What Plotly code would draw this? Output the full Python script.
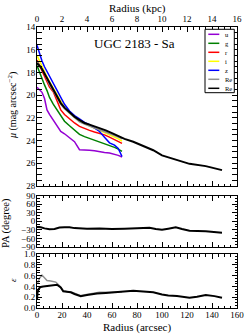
import plotly.graph_objects as go

# ---------------- data ----------------
r_band = [0, 2, 4, 6, 8, 10, 13, 16, 19, 22, 26, 30, 34, 38, 42, 46, 50, 54, 58, 62, 65, 68]
mu_u = [19.3, 19.5, 19.75, 20.3, 21.3, 21.7, 22.2, 22.7, 23.2, 23.4, 23.75, 24.1, 24.8, 24.8, 24.85, 24.9, 25.0, 25.05, 25.1, 25.2, 25.3, 25.45]
mu_g = [17.4, 18.0, 18.6, 19.1, 19.6, 20.2, 20.8, 21.3, 21.9, 22.3, 22.7, 23.1, 23.45, 23.65, 23.8, 23.95, 24.1, 24.3, 24.45, 24.6, 24.75, 24.95]
mu_r = [16.9, 17.4, 17.9, 18.35, 18.9, 19.3, 19.7, 20.5, 21.3, 21.7, 22.1, 22.45, 22.75, 22.95, 23.1, 23.25, 23.35, 23.5, 23.7, 23.9, 24.05, 24.25]
mu_i = [16.5, 17.0, 17.5, 17.9, 18.4, 18.8, 19.4, 20.0, 20.6, 21.1, 21.6, 21.95, 22.3, 22.5, 22.7, 22.85, 23.05, 23.25, 23.45, 23.65, 23.85, 24.05]
mu_z = [15.6, 16.4, 17.0, 17.5, 17.9, 18.4, 18.9, 19.6, 20.2, 20.8, 21.4, 21.8, 22.1, 22.4, 22.6, 22.9, 23.2, 23.7, 24.2, 24.4, 24.7, 25.4]
mu_re_gray = [17.0, 17.3, 17.7, 18.1, 18.6, 19.1, 19.6, 20.2, 20.8, 21.2, 21.6, 22.0, 22.35, 22.55, 22.75, 22.9, 23.05, 23.2, 23.4, 23.55, 23.7, 23.85]

r_full = [0, 2, 4, 6, 8, 10, 13, 16, 19, 22, 26, 30, 34, 38, 42, 46, 50, 55, 60, 65, 70, 77, 85, 93, 100, 110, 122, 135, 148]
mu_re = [17.2, 17.4, 17.7, 18.1, 18.6, 19.0, 19.5, 20.1, 20.7, 21.1, 21.5, 21.9, 22.2, 22.45, 22.6, 22.75, 22.9, 23.1, 23.35, 23.6, 23.85, 24.1, 24.45, 24.85, 25.3, 25.65, 26.05, 26.25, 26.6]

r_pa = [0, 3, 6, 10, 14, 18, 22, 26, 30, 35, 40, 50, 60, 70, 80, 85, 90, 95, 100, 105, 111, 116, 122, 135, 148]
pa = [-20, -21, -25, -28, -27, -22, -21, -21, -24, -26, -26, -25, -27, -26, -24, -22, -23, -27, -30, -26, -21, -27, -33, -35, -40]

r_ell = [0, 0.5, 1.5, 3, 5, 8, 12, 16, 19, 21, 24, 27, 30, 35, 40, 48, 55, 65, 72, 77, 85, 93, 100, 105, 112, 122, 128, 135, 142, 148]
ell = [0.16, 0.3, 0.36, 0.39, 0.40, 0.41, 0.42, 0.43, 0.38, 0.31, 0.3, 0.29, 0.26, 0.22, 0.24, 0.27, 0.28, 0.29, 0.31, 0.32, 0.30, 0.29, 0.25, 0.23, 0.22, 0.19, 0.21, 0.24, 0.22, 0.19]

r_ell_gray = [0.5, 2, 4, 6, 8, 11, 15, 18, 21, 24, 28, 35, 42, 50, 58, 68]
ell_gray = [0.46, 0.55, 0.61, 0.55, 0.51, 0.50, 0.48, 0.41, 0.32, 0.30, 0.29, 0.23, 0.26, 0.29, 0.29, 0.30]

bands = [
    ("u", mu_u, "#9400D3"),
    ("g", mu_g, "#008000"),
    ("r", mu_r, "#FF0000"),
    ("i", mu_i, "#FFFF00"),
    ("z", mu_z, "#0000FF"),
    ("Re", mu_re_gray, "#909090"),
]
legend_items = [("u", "#9400D3"), ("g", "#008000"), ("r", "#FF0000"), ("i", "#FFFF00"),
                ("z", "#0000FF"), ("Re", "#909090"), ("Re", "#000000")]

x_ticks_kpc = list(range(0, 17, 2))

# ---------------- figure ----------------
FONT = "Liberation Serif"
W, H = 245, 334
L, R, T, B = 37, 8, 27, 26
PW, PH = W - L - R, H - T - B


def px2paper(px, py):
    return (px - L) / PW, (H - B - py) / PH


fig = go.Figure()
for name, mu, col in bands:
    fig.add_trace(go.Scatter(x=r_band, y=mu, mode="lines", line=dict(color=col, width=1.5),
                             xaxis="x", yaxis="y", showlegend=False, name=name))
fig.add_trace(go.Scatter(x=r_full, y=mu_re, mode="lines", line=dict(color="black", width=2),
                         xaxis="x", yaxis="y", showlegend=False))
fig.add_trace(go.Scatter(x=[None], y=[None], mode="lines", xaxis="x4", yaxis="y", showlegend=False))
fig.add_trace(go.Scatter(x=r_pa, y=pa, mode="lines", line=dict(color="black", width=2),
                         xaxis="x2", yaxis="y2", showlegend=False))
fig.add_trace(go.Scatter(x=r_ell_gray, y=ell_gray, mode="lines", line=dict(color="#909090", width=1.5),
                         xaxis="x3", yaxis="y3", showlegend=False))
fig.add_trace(go.Scatter(x=r_ell, y=ell, mode="lines", line=dict(color="black", width=2),
                         xaxis="x3", yaxis="y3", showlegend=False))

tickfont = dict(family=FONT, size=9, color="black")
common = dict(showline=True, linecolor="black", linewidth=1, ticks="inside", ticklen=5,
              tickcolor="black", showgrid=False, zeroline=False, tickfont=tickfont,
              automargin=False)

BOT = H - B
d_main = [(BOT - 186) / PH, 1]
d_pa = [(BOT - 247) / PH, (BOT - 195.5) / PH]
d_e = [0, (BOT - 254) / PH]


def minor(dt):
    return dict(dtick=dt, ticklen=2.5, ticks="inside", tickcolor="black", showgrid=False)


fig.update_layout(
    width=W, height=H, margin=dict(l=L, r=R, t=T, b=B, autoexpand=False),
    paper_bgcolor="white", plot_bgcolor="white",
    font=dict(family=FONT, color="black"),
    xaxis=dict(domain=[0, 1], anchor="y", range=[0, 160], dtick=20, showticklabels=False,
               mirror=False, minor=minor(5), **common),
    xaxis4=dict(overlaying="x", anchor="y", side="top", range=[0, 16], tickvals=x_ticks_kpc,
                mirror=False, minor=minor(0.5), **common),
    yaxis=dict(domain=d_main, anchor="x", range=[28, 14], dtick=2, mirror="allticks",
               minor=minor(0.5), ticklabelstandoff=-1, **common),
    xaxis2=dict(domain=[0, 1], anchor="y2", range=[0, 160], dtick=20, showticklabels=False,
                mirror="allticks", minor=minor(5), **common),
    yaxis2=dict(domain=d_pa, anchor="x2", range=[-90, 90], dtick=30, mirror="allticks",
                minor=minor(10), ticklabelstandoff=-1, **common),
    xaxis3=dict(domain=[0, 1], anchor="y3", range=[0, 160], dtick=20, ticklabelstandoff=-2,
                mirror="allticks", minor=minor(5), **common),
    yaxis3=dict(domain=d_e, anchor="x3", range=[0, 1], dtick=0.2, tickformat=".1f", mirror="allticks",
                minor=minor(0.05), ticklabelstandoff=-1, **common),
)

ann = []
shapes = []


def add_text(text, px, py, size, angle=0, xanchor="center"):
    x, y = px2paper(px, py)
    ann.append(dict(text=text, x=x, y=y, xref="paper", yref="paper", showarrow=False,
                    textangle=angle, xanchor=xanchor, yanchor="middle",
                    font=dict(family=FONT, size=size, color="black")))


add_text("Radius (kpc)", 137, 8, 11)
add_text("Radius (arcsec)", 137, 327, 11)
add_text("<i>μ</i> (mag arcsec<sup>−2</sup>)", 12, 106, 10, angle=-90)
add_text("PA (degree)", 6, 223, 10.5, angle=-90)
add_text("<i>ε</i>", 13, 280, 9, angle=-90)
add_text("UGC 2183 - Sa", 134, 43, 13)

# legend box
x0, y0 = px2paper(205, 29.3)
x1, y1 = px2paper(234.3, 92.7)
shapes.append(dict(type="rect", xref="paper", yref="paper", x0=x0, y0=y1, x1=x1, y1=y0,
                   line=dict(color="black", width=1), fillcolor="white", layer="above"))
for k, (lab, col) in enumerate(legend_items):
    py = 34.3 + 9 * k
    lx0, ly = px2paper(208.3, py)
    lx1, _ = px2paper(219.3, py)
    shapes.append(dict(type="line", xref="paper", yref="paper", x0=lx0, x1=lx1, y0=ly, y1=ly,
                       line=dict(color=col, width=1.5), layer="above"))
    add_text(lab, 223, py, 6.5, xanchor="left")

fig.update_layout(annotations=ann, shapes=shapes)
fig.write_html("out.html", config={"displayModeBar": False},
               post_script="document.body.style.margin='0';document.body.style.padding='0';")
